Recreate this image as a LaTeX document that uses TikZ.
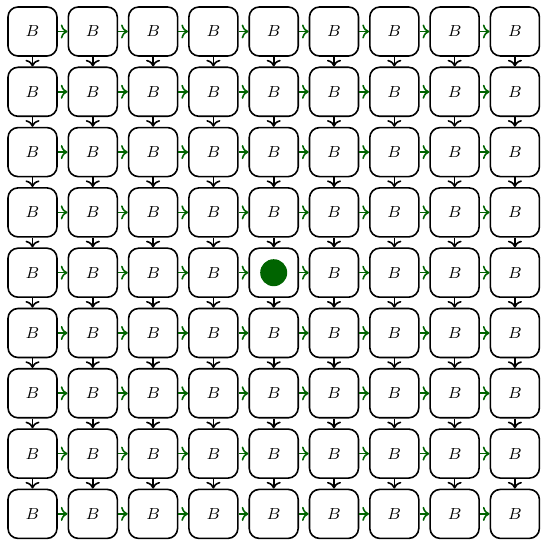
\documentclass[tikz,border=0pt]{standalone}
\usepackage{tikz}
\usetikzlibrary{arrows.meta}
\definecolor{darkgreen}{RGB}{0,100,0}
\tikzset{
  block/.style={draw, thick, rounded corners=5pt, minimum size=24.5pt, inner sep=0pt, font=\footnotesize},
  flow/.style={->, thick, darkgreen},
  down/.style={->, thick, black},
}
\begin{document}
\begin{tikzpicture}[x=1pt,y=1pt]
\useasboundingbox (0,0) rectangle (271,-270);
% grid of blocks
\foreach \i in {0,...,8}{
  \foreach \j in {0,...,8}{
    \pgfmathtruncatemacro\mid{(\i==4)&&(\j==4)}
    \ifnum\mid=1
      \node[block] (b-\i-\j) at ({16.25+30.15*\i},{-15.75-30.15*\j}) {};
    \else
      \node[block] (b-\i-\j) at ({16.25+30.15*\i},{-15.75-30.15*\j}) {$B$};
    \fi
  }
}
\node[circle, fill=darkgreen, minimum size=13.5pt, inner sep=0pt] (token) at (b-4-4) {};
% connections
\foreach \i in {0,...,7}{
  \pgfmathtruncatemacro\n{\i+1}
  \foreach \j in {0,...,8}{
    \draw[flow] (b-\i-\j) -- (b-\n-\j);
    \draw[down] (b-\j-\i) -- (b-\j-\n);
  }
}
\end{tikzpicture}
\end{document}
